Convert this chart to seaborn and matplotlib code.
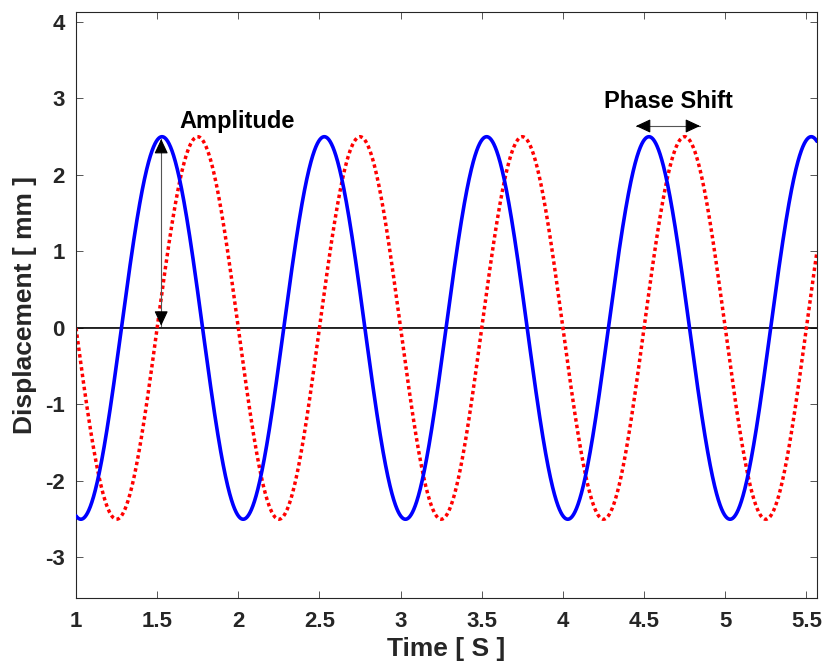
import numpy as np
import pandas as pd
import matplotlib
matplotlib.use("Agg")
import matplotlib.pyplot as plt
import seaborn as sns

# Wave parameters (displacement in mm, time in s)
amplitude_mm = 2.5
frequency_hz = 1.0
leading_delay_s = 0.28   # solid blue wave
lagging_delay_s = 0.50   # dotted red wave
time_start_s = 1.0
time_end_s = 5.565

x_ticks = [1, 1.5, 2, 2.5, 3, 3.5, 4, 4.5, 5, 5.5]
x_tick_labels = ["1", "1.5", "2", "2.5", "3", "3.5", "4", "4.5", "5", "5.5"]
y_ticks = [-3, -2, -1, 0, 1, 2, 3, 4]
y_tick_labels = ["-3", "-2", "-1", "0", "1", "2", "3", "4"]
y_limits = (-3.53, 4.13)

# Annotation anchors
amplitude_arrow_x = 1.525
amplitude_arrow_y = (0.03, 2.47)
phase_arrow_y = 2.64
phase_arrow_x = (4.45, 4.845)

time_s = np.linspace(time_start_s, time_end_s, 3000)
waves = pd.DataFrame({
    "time": time_s,
    "leading": amplitude_mm * np.sin(2 * np.pi * frequency_hz * (time_s - leading_delay_s)),
    "lagging": amplitude_mm * np.sin(2 * np.pi * frequency_hz * (time_s - lagging_delay_s)),
    "baseline": np.zeros_like(time_s),
})

sns.set_theme(style="ticks")
plt.rcParams["font.family"] = ["Liberation Sans", "DejaVu Sans"]
plt.rcParams["font.weight"] = "bold"

ink = "#262626"
fig = plt.figure(figsize=(8.26, 6.67), dpi=100)
ax = fig.add_axes([0.092, 0.1034, 0.897, 0.8786])

sns.lineplot(data=waves, x="time", y="baseline", ax=ax, color="black",
             linewidth=1.2, zorder=1)
sns.lineplot(data=waves, x="time", y="leading", ax=ax, color="#0000ff",
             linewidth=2.6, zorder=3)
sns.lineplot(data=waves, x="time", y="lagging", ax=ax, color="#ff0000",
             linewidth=2.5, linestyle=(0, (1.0, 0.9)), zorder=2)

ax.set_xlim(time_start_s, time_end_s)
ax.set_ylim(*y_limits)
ax.set_xticks(x_ticks)
ax.set_xticklabels(x_tick_labels)
ax.set_yticks(y_ticks)
ax.set_yticklabels(y_tick_labels)

for side in ["top", "right", "bottom", "left"]:
    ax.spines[side].set_visible(True)
    ax.spines[side].set_color(ink)
    ax.spines[side].set_linewidth(0.8)

ax.tick_params(axis="both", direction="in", length=5, width=0.7, color="#555555",
               labelcolor=ink, labelsize=16, top=True, right=True)
ax.tick_params(axis="x", pad=9)
ax.tick_params(axis="y", pad=8)
for lbl in ax.get_xticklabels() + ax.get_yticklabels():
    lbl.set_fontweight("bold")

ax.set_xlabel("Time [ S ]", fontsize=19, fontweight="bold", color=ink, labelpad=4)
ax.set_ylabel("Displacement [ mm ]", fontsize=19, fontweight="bold", color=ink, labelpad=6)

# Double-headed annotation arrows: thin grey shaft, black heads
def double_arrow(p0, p1):
    ax.plot([p0[0], p1[0]], [p0[1], p1[1]], color="#555555", linewidth=0.8, zorder=4)
    head = dict(arrowstyle="-|>,head_length=0.9,head_width=0.42", color="black",
                linewidth=0.8, shrinkA=0, shrinkB=0, mutation_scale=10)
    for tip, tail in ((p0, p1), (p1, p0)):
        ax.annotate("", xy=tip, xytext=(tip[0] + (tail[0] - tip[0]) * 0.05,
                                        tip[1] + (tail[1] - tip[1]) * 0.05),
                    arrowprops=head, zorder=5)

double_arrow((amplitude_arrow_x, amplitude_arrow_y[0]), (amplitude_arrow_x, amplitude_arrow_y[1]))
double_arrow((phase_arrow_x[0], phase_arrow_y), (phase_arrow_x[1], phase_arrow_y))

ax.text(1.64, 2.70, "Amplitude", fontsize=17, fontweight="bold", color="black",
        ha="left", va="center")
ax.text(4.65, 2.96, "Phase Shift", fontsize=17, fontweight="bold", color="black",
        ha="center", va="center")

fig.savefig("out.png", dpi=100)
